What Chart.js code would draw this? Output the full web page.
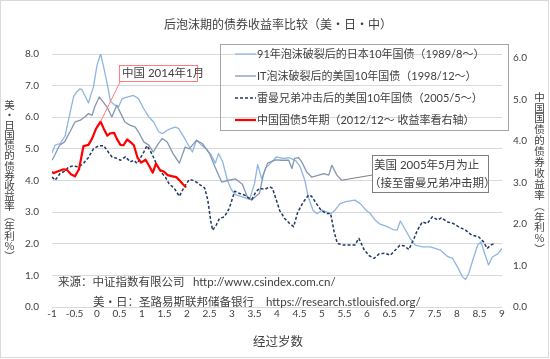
<!DOCTYPE html>
<html><head><meta charset="utf-8">
<script src="https://cdn.jsdelivr.net/npm/chart.js@4"></script>
<style>html,body{margin:0;padding:0;background:#fff;}canvas{display:block;}</style>
</head><body>
<canvas id="c" width="550" height="359"></canvas>
<script>
// ---- data (x = elapsed years, y = yield %) ----
const jpName = '91年泡沫破裂后的日本10年国债（1989/8～）';
const jpX = [-1.00,-0.93,-0.82,-0.71,-0.59,-0.52,-0.45,-0.38,-0.34,-0.27,-0.19,-0.14,-0.08,0.00,0.08,0.14,0.22,0.30,0.38,0.48,0.56,0.67,0.81,0.92,1.04,1.15,1.26,1.37,1.45,1.56,1.65,1.74,1.81,1.90,2.01,2.12,2.21,2.32,2.43,2.54,2.63,2.70,2.79,2.90,2.99,3.08,3.19,3.30,3.39,3.50,3.57,3.66,3.75,3.86,3.99,4.13,4.28,4.42,4.51,4.62,4.69,4.80,4.89,5.00,5.11,5.20,5.29,5.40,5.53,5.73,5.85,5.98,6.07,6.18,6.29,6.45,6.58,6.67,6.74,6.85,6.96,7.07,7.23,7.41,7.63,7.79,7.90,8.01,8.12,8.19,8.26,8.35,8.46,8.53,8.59,8.70,8.79,8.90,9.00];
const jpY = [4.87,5.12,5.17,5.40,6.20,6.65,6.80,6.90,6.88,6.69,6.45,6.70,6.95,7.64,8.01,7.64,7.10,6.50,6.40,6.33,6.59,6.64,6.69,6.59,6.27,6.01,5.85,5.54,5.48,5.59,5.65,5.69,5.65,5.45,5.17,4.90,5.27,5.12,5.00,4.80,4.55,4.85,4.60,4.00,3.70,3.55,3.50,3.45,3.40,3.90,4.50,4.05,4.40,4.55,4.75,4.70,4.72,4.62,4.45,4.00,3.50,3.06,2.95,3.06,3.00,2.96,3.06,3.27,3.33,3.38,3.27,3.06,2.96,2.75,2.62,2.54,2.45,2.43,2.72,2.45,2.17,1.96,1.90,1.90,1.80,1.60,1.54,1.27,0.96,0.87,1.06,1.48,1.96,2.06,1.80,1.33,1.59,1.67,1.85];

const itName = 'IT泡沫破裂后的美国10年国债（1998/12～）';
const itX = [-1.00,-0.94,-0.83,-0.72,-0.60,-0.49,-0.38,-0.27,-0.19,-0.11,-0.05,0.05,0.14,0.22,0.33,0.44,0.51,0.62,0.73,0.85,0.92,1.04,1.15,1.25,1.34,1.45,1.56,1.69,1.83,1.96,2.05,2.21,2.34,2.50,2.63,2.77,2.90,3.08,3.23,3.35,3.44,3.53,3.61,3.70,3.79,3.97,4.11,4.26,4.33,4.39,4.48,4.55,4.66,4.77,4.93,5.04,5.15,5.22,5.33,5.44];
const itY = [4.64,4.80,5.12,5.22,5.54,5.85,5.90,6.01,6.12,6.06,6.33,6.64,6.48,6.33,6.01,6.38,6.17,5.85,5.75,5.69,5.54,5.22,5.12,4.90,5.12,5.33,5.22,4.85,4.55,5.06,5.00,5.27,5.17,4.85,4.40,3.95,4.00,4.05,3.88,3.45,3.38,3.50,3.60,4.20,4.55,4.65,4.64,4.64,4.38,4.70,4.72,4.59,4.27,4.11,4.17,4.22,4.17,4.48,4.17,4.01];

const lbName = '雷曼兄弟冲击后的美国10年国债（2005/5～）';
const lbX = [-1.00,-0.93,-0.82,-0.71,-0.63,-0.52,-0.41,-0.30,-0.19,-0.08,0.04,0.15,0.26,0.33,0.44,0.52,0.63,0.74,0.82,0.89,0.96,1.04,1.11,1.19,1.25,1.34,1.45,1.52,1.60,1.72,1.83,1.94,2.05,2.16,2.27,2.39,2.46,2.53,2.57,2.65,2.72,2.83,2.94,3.06,3.17,3.28,3.37,3.44,3.53,3.61,3.73,3.84,3.90,3.97,4.06,4.17,4.28,4.37,4.46,4.59,4.70,4.77,4.86,4.98,5.09,5.19,5.27,5.34,5.47,5.62,5.73,5.82,5.94,6.05,6.16,6.27,6.40,6.52,6.63,6.73,6.83,6.93,7.04,7.12,7.23,7.34,7.45,7.57,7.65,7.79,7.92,8.03,8.19,8.33,8.48,8.59,8.67,8.75,8.84];
const lbY = [4.11,4.01,4.22,4.30,4.43,4.46,4.43,4.54,4.73,5.00,5.10,5.10,4.88,4.75,4.70,4.64,4.75,4.59,4.64,4.54,4.70,4.90,5.10,4.92,4.75,4.46,4.22,4.11,3.90,3.75,3.50,3.80,4.03,4.00,3.88,3.77,3.40,2.70,2.43,2.59,2.80,2.85,3.12,3.66,3.59,3.54,3.45,3.40,3.64,3.75,3.72,3.80,3.75,3.45,3.05,2.80,2.64,2.54,3.00,3.33,3.54,3.50,3.30,3.06,2.96,2.96,2.38,2.01,1.96,1.96,1.96,2.17,1.80,1.62,1.54,1.68,1.70,1.64,1.80,1.95,1.93,1.82,2.15,2.43,2.69,2.64,2.85,2.75,2.82,2.69,2.64,2.54,2.43,2.27,2.22,2.06,1.85,1.96,2.01];

const cnName = '中国国债5年期（2012/12～ 收益率看右轴）';
const cnX = [-1.00,-0.96,-0.85,-0.74,-0.66,-0.58,-0.49,-0.40,-0.30,-0.19,-0.11,-0.02,0.08,0.15,0.23,0.30,0.38,0.44,0.52,0.59,0.67,0.75,0.82,0.90,0.98,1.08,1.16,1.24,1.31,1.40,1.49,1.57,1.68,1.76,1.83,1.90,1.98];
const cnY = [3.26,3.23,3.28,3.32,3.30,3.20,3.15,3.32,3.88,3.91,4.06,4.30,4.47,4.30,4.13,4.19,4.20,4.06,3.91,3.90,4.04,3.97,3.90,3.60,3.48,3.55,3.40,3.24,3.46,3.30,3.26,3.18,3.15,3.13,3.06,2.97,2.88];

const leftTicks = [0,1,2,3,4,5,6,7,8];
const rightTicks = [0,1,2,3,4,5,6];

const titleText = '后泡沫期的债券收益率比较（美・日・中）';
const xTitle = '经过岁数';
const leftTitle = ['美','・','日','国','债','的','债','券','收','益','率','︵','年','利','％','︶'];
const rightTitle = ['中','国','国','债','的','债','券','收','益','率','︵','年','利','％','︶'];
const cnNote = '中国 2014年1月';
const usNote1 = '美国 2005年5月为止';
const usNote2 = '（接至雷曼兄弟冲击期）';
const src1a = '来源：中证指数有限公司', src1b = 'http://www.csindex.com.cn/';
const src2a = '美・日：圣路易斯联邦储备银行', src2b = 'https://research.stlouisfed.org/';

const FONT = "Lato, 'Noto Sans CJK SC', sans-serif";
const CJK = "'Noto Sans CJK SC', sans-serif";
const COL = {jp:'#8fb6e0', it:'#8497b0', lb:'#1f3864', cn:'#ff0000'};
const pts = (xs, ys) => xs.map((x, i) => ({x: x, y: ys[i]}));

const series = [
  {label: jpName, data: pts(jpX, jpY), borderColor: COL.jp, borderWidth: 1.3, yAxisID: 'y', order: 3},
  {label: itName, data: pts(itX, itY), borderColor: COL.it, borderWidth: 1.3, yAxisID: 'y', order: 2},
  {label: lbName, data: pts(lbX, lbY), borderColor: COL.lb, borderWidth: 1.5, borderDash: [3, 2], yAxisID: 'y', order: 1},
  {label: cnName, data: pts(cnX, cnY), borderColor: COL.cn, borderWidth: 2.2, yAxisID: 'y1', order: 0}
];
series.forEach(s => { s.pointRadius = 0; s.fill = false; s.tension = 0; s.borderJoinStyle = 'round'; });

const deco = {
  id: 'deco',
  beforeDraw(chart) {
    const c = chart.ctx;
    c.save(); c.fillStyle = '#fff'; c.fillRect(0, 0, chart.width, chart.height); c.restore();
  },
  afterDatasetsDraw(chart) {
    const c = chart.ctx, sx = chart.scales.x, sl = chart.scales.y, sr = chart.scales.y1;
    c.save();
    // outer border
    c.strokeStyle = '#d9d9d9'; c.lineWidth = 1; c.strokeRect(0.5, 0.5, 548, 357);
    // title
    c.fillStyle = '#404040'; c.textBaseline = 'middle';
    c.font = '12px ' + FONT; c.textAlign = 'center';
    c.fillText(titleText, 278, 25);
    // x title
    c.font = '12.5px ' + FONT;
    c.fillText(xTitle, 278, 342);
    // vertical axis titles
    c.font = '10.5px ' + CJK; c.fillStyle = '#404040';
    leftTitle.forEach((ch, i) => c.fillText(ch, 9.5, 105 + i * 10.1));
    rightTitle.forEach((ch, i) => c.fillText(ch, 539.5, 96.7 + i * 10.9));
    // legend
    c.strokeStyle = '#a6a6a6'; c.lineWidth = 1;
    c.strokeRect(220.5, 44.5, 288, 86);
    const leg = [[jpName, COL.jp, 1.3, []], [itName, COL.it, 1.3, []], [lbName, COL.lb, 1.5, [3, 2]], [cnName, COL.cn, 2.2, []]];
    c.font = '11px ' + FONT; c.textAlign = 'left'; c.fillStyle = '#404040';
    leg.forEach((l, i) => {
      const y = 54 + i * 22;
      c.beginPath(); c.setLineDash(l[3]); c.strokeStyle = l[1]; c.lineWidth = l[2];
      c.moveTo(235, y); c.lineTo(256, y); c.stroke(); c.setLineDash([]);
      c.fillText(l[0], 257, y);
    });
    // China annotation
    c.font = '11.5px ' + FONT;
    const px = sx.getPixelForValue(cnX[12]), py = sr.getPixelForValue(cnY[12]);
    c.strokeStyle = '#ff7c80'; c.lineWidth = 1;
    c.beginPath(); c.moveTo(120.5, 81); c.lineTo(px, py); c.stroke();
    c.fillStyle = '#fff'; c.fillRect(119, 65, 78, 16);
    c.strokeRect(119.5, 65.5, 78, 16);
    c.fillStyle = '#404040'; c.fillText(cnNote, 122, 73.5);
    // US annotation
    const ux = sx.getPixelForValue(itX[itX.length - 1]), uy = sl.getPixelForValue(itY[itY.length - 1]);
    c.strokeStyle = '#7f7f7f';
    c.beginPath(); c.moveTo(372.5, 175); c.lineTo(ux, uy); c.stroke();
    c.fillStyle = '#fff'; c.fillRect(372, 155, 116, 37);
    c.strokeRect(372.5, 155.5, 116, 37);
    c.fillStyle = '#404040';
    c.fillText(usNote1, 374, 165);
    c.fillText(usNote2, 369, 183.5);
    // sources
    c.fillText(src1a, 58, 282.5); c.fillText(src1b, 193, 282.5);
    c.fillText(src2a, 93, 302); c.fillText(src2b, 266, 302);
    c.restore();
  }
};

new Chart(document.getElementById('c').getContext('2d'), {
  type: 'line',
  data: {datasets: series},
  options: {
    responsive: false, animation: false, devicePixelRatio: 1,
    layout: {padding: {top: 54, left: 0, right: 0, bottom: 0}},
    plugins: {legend: {display: false}, tooltip: {enabled: false}, title: {display: false}},
    scales: {
      x: {
        type: 'linear', min: -1, max: 9,
        grid: {display: false, drawTicks: false}, border: {display: false},
        ticks: {stepSize: 0.5, autoSkip: false, maxRotation: 0, padding: 1, color: '#404040',
          font: {family: FONT, size: 10}, callback: v => String(Math.round(v * 10) / 10)},
        afterFit(s) { s.height = 52; }
      },
      y: {
        position: 'left', min: 0, max: 8,
        afterBuildTicks(s) { s.ticks = leftTicks.map(v => ({value: v})); },
        grid: {color: '#d9d9d9', drawTicks: false, lineWidth: 1}, border: {display: false},
        ticks: {padding: 13, color: '#404040', font: {family: FONT, size: 10}, callback: v => Number(v).toFixed(1)},
        afterFit(s) { s.width = 52; }
      },
      y1: {
        position: 'right', min: 0, max: 6.1,
        afterBuildTicks(s) { s.ticks = rightTicks.map(v => ({value: v})); },
        grid: {display: false, drawTicks: false}, border: {display: false},
        ticks: {padding: 11, color: '#404040', font: {family: FONT, size: 10}, callback: v => Number(v).toFixed(1)},
        afterFit(s) { s.width = 48; }
      }
    }
  },
  plugins: [deco]
});
</script>
</body></html>
